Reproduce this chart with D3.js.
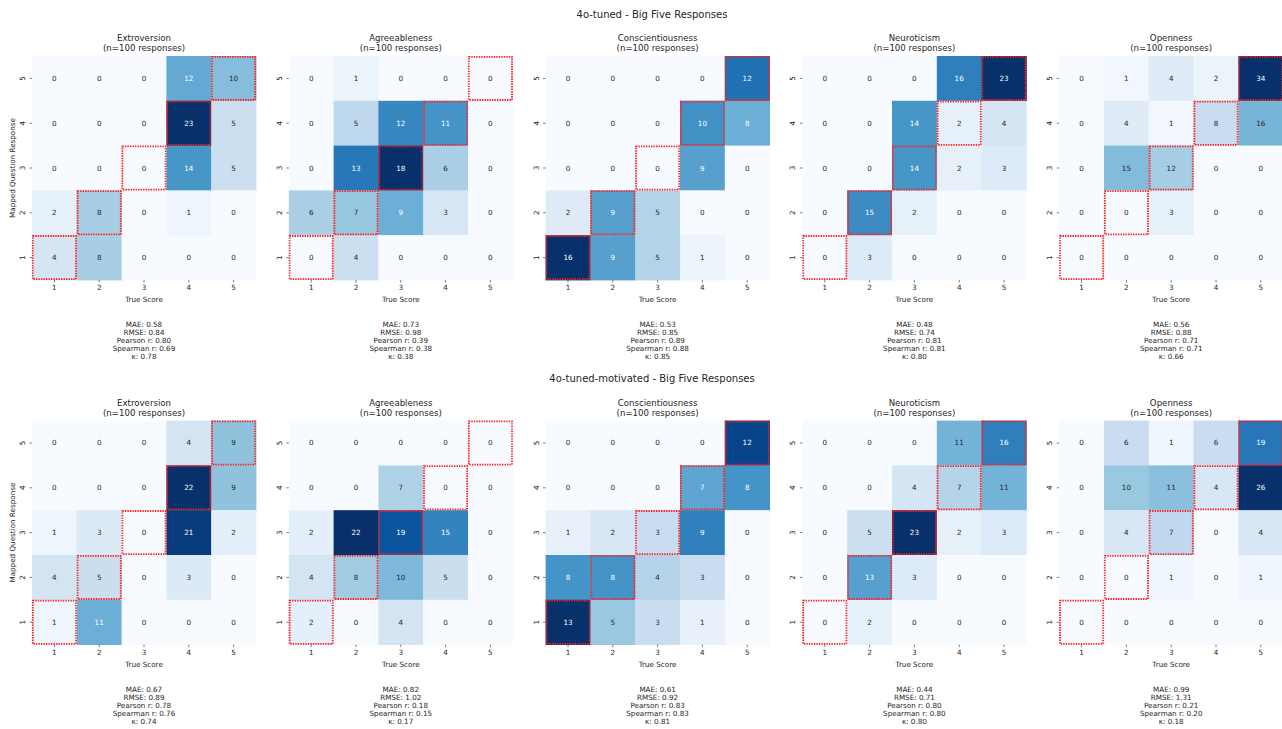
<!DOCTYPE html>
<html>
<head>
<meta charset="utf-8">
<script src="https://cdn.jsdelivr.net/npm/d3@7"></script>
<style>
  body { margin: 0; background: #fff; }
  svg { display: block; }
  text { font-family: "DejaVu Sans", sans-serif; fill: #262626; }
</style>
</head>
<body>
<svg id="chart" width="1282" height="729"></svg>
<script>
// Likert scale shared by both axes
const scores = [1, 2, 3, 4, 5];
const traits = ["Extroversion", "Agreeableness", "Conscientiousness", "Neuroticism", "Openness"];
const runNames = ["4o-tuned", "4o-tuned-motivated"];
const responsesPerTrait = 100;

// Confusion counts: rows are mapped responses 5 → 1 (top to bottom), columns are true scores 1 → 5
const tunedExtroversion      = [[0,0,0,12,10],[0,0,0,23,5],[0,0,0,14,5],[2,8,0,1,0],[4,8,0,0,0]];
const tunedAgreeableness     = [[0,1,0,0,0],[0,5,12,11,0],[0,13,18,6,0],[6,7,9,3,0],[0,4,0,0,0]];
const tunedConscientiousness = [[0,0,0,0,12],[0,0,0,10,8],[0,0,0,9,0],[2,9,5,0,0],[16,9,5,1,0]];
const tunedNeuroticism       = [[0,0,0,16,23],[0,0,14,2,4],[0,0,14,2,3],[0,15,2,0,0],[0,3,0,0,0]];
const tunedOpenness          = [[0,1,4,2,34],[0,4,1,8,16],[0,15,12,0,0],[0,0,3,0,0],[0,0,0,0,0]];

const motivatedExtroversion      = [[0,0,0,4,9],[0,0,0,22,9],[1,3,0,21,2],[4,5,0,3,0],[1,11,0,0,0]];
const motivatedAgreeableness     = [[0,0,0,0,0],[0,0,7,0,0],[2,22,19,15,0],[4,8,10,5,0],[2,0,4,0,0]];
const motivatedConscientiousness = [[0,0,0,0,12],[0,0,0,7,8],[1,2,3,9,0],[8,8,4,3,0],[13,5,3,1,0]];
const motivatedNeuroticism       = [[0,0,0,11,16],[0,0,4,7,11],[0,5,23,2,3],[0,13,3,0,0],[0,2,0,0,0]];
const motivatedOpenness          = [[0,6,1,6,19],[0,10,11,4,26],[0,4,7,0,4],[0,0,1,0,1],[0,0,0,0,0]];

// Agreement metrics per trait (same order as traits)
const tunedMAE      = [0.58, 0.73, 0.53, 0.48, 0.56];
const tunedRMSE     = [0.84, 0.98, 0.85, 0.74, 0.88];
const tunedPearson  = [0.80, 0.39, 0.89, 0.81, 0.71];
const tunedSpearman = [0.69, 0.38, 0.88, 0.81, 0.71];
const tunedKappa    = [0.78, 0.38, 0.85, 0.80, 0.66];

const motivatedMAE      = [0.67, 0.82, 0.61, 0.44, 0.99];
const motivatedRMSE     = [0.89, 1.02, 0.92, 0.71, 1.31];
const motivatedPearson  = [0.78, 0.18, 0.83, 0.80, 0.21];
const motivatedSpearman = [0.76, 0.15, 0.83, 0.80, 0.20];
const motivatedKappa    = [0.74, 0.17, 0.81, 0.80, 0.18];

const runs = [
  {
    name: runNames[0],
    matrices: [tunedExtroversion, tunedAgreeableness, tunedConscientiousness, tunedNeuroticism, tunedOpenness],
    metrics: [tunedMAE, tunedRMSE, tunedPearson, tunedSpearman, tunedKappa]
  },
  {
    name: runNames[1],
    matrices: [motivatedExtroversion, motivatedAgreeableness, motivatedConscientiousness, motivatedNeuroticism, motivatedOpenness],
    metrics: [motivatedMAE, motivatedRMSE, motivatedPearson, motivatedSpearman, motivatedKappa]
  }
];
const metricLabels = ["MAE", "RMSE", "Pearson r", "Spearman r", "κ"];

// Layout
const panelLeft = 32, panelStep = 256.8, panelSize = 224;
const rowTops = [56, 420.6];
const suptitleX = 652;

// Matplotlib "Blues" colormap (linear through the ColorBrewer stops)
const bluesStops = ["#f7fbff","#deebf7","#c6dbef","#9ecae1","#6baed6","#4292c6","#2171b5","#08519c","#08306b"];
const blues = d3.scaleLinear()
  .domain(bluesStops.map((_, i) => i / (bluesStops.length - 1)))
  .range(bluesStops)
  .interpolate(d3.interpolateRgb)
  .clamp(true);

function luminance(color) {
  const c = d3.rgb(color);
  const lin = v => { v /= 255; return v <= 0.03928 ? v / 12.92 : Math.pow((v + 0.055) / 1.055, 2.4); };
  return 0.2126 * lin(c.r) + 0.7152 * lin(c.g) + 0.0722 * lin(c.b);
}

const svg = d3.select("#chart");

runs.forEach((run, ri) => {
  const top = rowTops[ri];

  svg.append("text")
    .attr("x", suptitleX).attr("y", top - 42)
    .attr("text-anchor", "middle").attr("dominant-baseline", "central")
    .style("font-size", "10px")
    .text(`${run.name} - Big Five Responses`);

  traits.forEach((trait, ti) => {
    const matrix = run.matrices[ti];
    const left = panelLeft + ti * panelStep;
    const g = svg.append("g").attr("transform", `translate(${left},${top})`);

    const x = d3.scaleBand().domain(scores).range([0, panelSize]).padding(0);
    const y = d3.scaleBand().domain(scores.slice().reverse()).range([0, panelSize]).padding(0);
    const vmax = d3.max(matrix.flat());

    const cells = [];
    matrix.forEach((row, r) => row.forEach((v, c) => {
      cells.push({ mapped: scores[scores.length - 1 - r], truth: scores[c], value: v });
    }));

    g.selectAll("rect.cell").data(cells).join("rect")
      .attr("class", "cell")
      .attr("x", d => x(d.truth)).attr("y", d => y(d.mapped))
      .attr("width", x.bandwidth() + 0.4).attr("height", y.bandwidth() + 0.4)
      .attr("fill", d => blues(d.value / vmax));

    g.selectAll("text.annot").data(cells).join("text")
      .attr("class", "annot")
      .attr("x", d => x(d.truth) + x.bandwidth() / 2)
      .attr("y", d => y(d.mapped) + y.bandwidth() / 2)
      .attr("text-anchor", "middle").attr("dominant-baseline", "central")
      .style("font-size", "7.2px")
      .style("fill", d => luminance(blues(d.value / vmax)) > 0.408 ? "#262626" : "#ffffff")
      .text(d => d.value);

    // Diagonal (exact match) outlines
    g.selectAll("rect.diag").data(scores).join("rect")
      .attr("class", "diag")
      .attr("x", s => x(s) + 0.8).attr("y", s => y(s) + 0.8)
      .attr("width", x.bandwidth() - 1.6).attr("height", y.bandwidth() - 1.6)
      .attr("fill", "none")
      .attr("stroke", "#ff2020").attr("stroke-width", 1.8)
      .attr("stroke-dasharray", "1.4,1.1");

    // Axes
    const xAxis = g.append("g").attr("transform", `translate(0,${panelSize})`)
      .call(d3.axisBottom(x).tickSize(2.5).tickPadding(2.5));
    const yAxis = g.append("g")
      .call(d3.axisLeft(y).tickSize(2.5).tickPadding(2.5));
    [xAxis, yAxis].forEach(a => {
      a.select(".domain").remove();
      a.selectAll(".tick line").attr("stroke", "#262626").attr("stroke-width", 0.6);
      a.selectAll(".tick text").style("font-size", "7.2px").attr("fill", null);
    });
    yAxis.selectAll(".tick text")
      .attr("x", null).attr("dy", null)
      .attr("text-anchor", "middle").attr("dominant-baseline", "central")
      .attr("transform", "translate(-9.5,0) rotate(-90)");

    g.append("text")
      .attr("x", panelSize / 2).attr("y", panelSize + 19.5)
      .attr("text-anchor", "middle").attr("dominant-baseline", "central")
      .style("font-size", "7.2px")
      .text("True Score");

    if (ti === 0) {
      g.append("text")
        .attr("transform", `translate(-20,${panelSize / 2}) rotate(-90)`)
        .attr("text-anchor", "middle").attr("dominant-baseline", "central")
        .style("font-size", "7.2px")
        .text("Mapped Question Response");
    }

    // Panel title
    g.append("text")
      .attr("x", panelSize / 2).attr("y", -17.7)
      .attr("text-anchor", "middle").attr("dominant-baseline", "central")
      .style("font-size", "8.6px")
      .text(trait);
    g.append("text")
      .attr("x", panelSize / 2).attr("y", -7.7)
      .attr("text-anchor", "middle").attr("dominant-baseline", "central")
      .style("font-size", "8.6px")
      .text(`(n=${responsesPerTrait} responses)`);

    // Metrics block
    metricLabels.forEach((label, mi) => {
      g.append("text")
        .attr("x", panelSize / 2).attr("y", panelSize + 44.5 + mi * 8.1)
        .attr("text-anchor", "middle").attr("dominant-baseline", "central")
        .style("font-size", "7.2px")
        .text(`${label}: ${run.metrics[mi][ti].toFixed(2)}`);
    });
  });
});
</script>
</body>
</html>
